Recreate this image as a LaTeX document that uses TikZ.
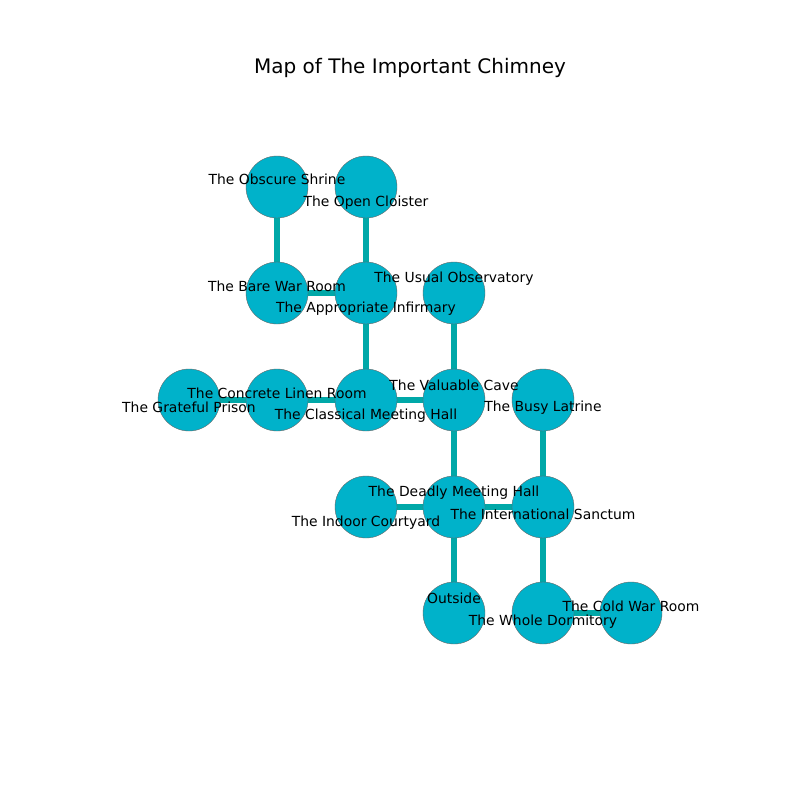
\documentclass[tikz,border=0pt]{standalone}
\usepackage{fontspec}
\setmainfont{DejaVu Sans}
\definecolor{nodefill}{RGB}{0,178,202}
\definecolor{edgecol}{RGB}{0,168,168}
\begin{document}
\begin{tikzpicture}[x=1pt,y=-1pt,
  room/.style={circle,draw=black!60,line width=0.4pt,fill=nodefill,minimum size=62pt,inner sep=0pt},
  lbl/.style={font=\fontsize{13.9}{16}\selectfont,inner sep=0pt,text=black,yshift=-1.5pt},
  link/.style={draw=edgecol,line width=5.5pt}]
\useasboundingbox (0,0) rectangle (800,800);
\fill[white] (0,0) rectangle (800,800);
\node[font=\fontsize{20}{24}\selectfont,inner sep=0pt] (title) at (410,68) {Map of The Important Chimney};
% rooms
\coordinate (pObs) at (277,187);
\coordinate (pOpen) at (366,187);
\coordinate (pBare) at (277,293);
\coordinate (pApp) at (366,293);
\coordinate (pUsual) at (454,293);
\coordinate (pGrat) at (189,400);
\coordinate (pConc) at (277,400);
\coordinate (pClass) at (366,400);
\coordinate (pVal) at (454,400);
\coordinate (pBusy) at (543,400);
\coordinate (pIndoor) at (366,507);
\coordinate (pDeadly) at (454,507);
\coordinate (pIntl) at (543,507);
\coordinate (pOut) at (454,613);
\coordinate (pWhole) at (543,613);
\coordinate (pCold) at (631,613);
% edges first (below nodes)
\draw[link] (pObs) -- (pBare);
\draw[link] (pOpen) -- (pApp);
\draw[link] (pBare) -- (pApp);
\draw[link] (pApp) -- (pClass);
\draw[link] (pUsual) -- (pVal);
\draw[link] (pGrat) -- (pConc);
\draw[link] (pConc) -- (pClass);
\draw[link] (pClass) -- (pVal);
\draw[link] (pVal) -- (pDeadly);
\draw[link] (pBusy) -- (pIntl);
\draw[link] (pIndoor) -- (pDeadly);
\draw[link] (pDeadly) -- (pIntl);
\draw[link] (pDeadly) -- (pOut);
\draw[link] (pIntl) -- (pWhole);
\draw[link] (pWhole) -- (pCold);
% circles
\foreach \p in {Obs,Open,Bare,App,Usual,Grat,Conc,Class,Val,Busy,Indoor,Deadly,Intl,Out,Whole,Cold}
  \node[room] (n\p) at (p\p) {};
% labels
\node[lbl] (lObs) at (277,178) {The Obscure Shrine};
\node[lbl] (lOpen) at (366,201) {The Open Cloister};
\node[lbl] (lBare) at (277,285) {The Bare War Room};
\node[lbl] (lApp) at (366,307) {The Appropriate Infirmary};
\node[lbl] (lUsual) at (454,277) {The Usual Observatory};
\node[lbl] (lGrat) at (189,406) {The Grateful Prison};
\node[lbl] (lConc) at (277,392) {The Concrete Linen Room};
\node[lbl] (lClass) at (366,414) {The Classical Meeting Hall};
\node[lbl] (lVal) at (454,384) {The Valuable Cave};
\node[lbl] (lBusy) at (543,406) {The Busy Latrine};
\node[lbl] (lIndoor) at (366,521) {The Indoor Courtyard};
\node[lbl] (lDeadly) at (454,491) {The Deadly Meeting Hall};
\node[lbl] (lIntl) at (543,513) {The International Sanctum};
\node[lbl] (lOut) at (454,597) {Outside};
\node[lbl] (lWhole) at (543,620) {The Whole Dormitory};
\node[lbl] (lCold) at (631,605) {The Cold War Room};
\end{tikzpicture}
\end{document}
